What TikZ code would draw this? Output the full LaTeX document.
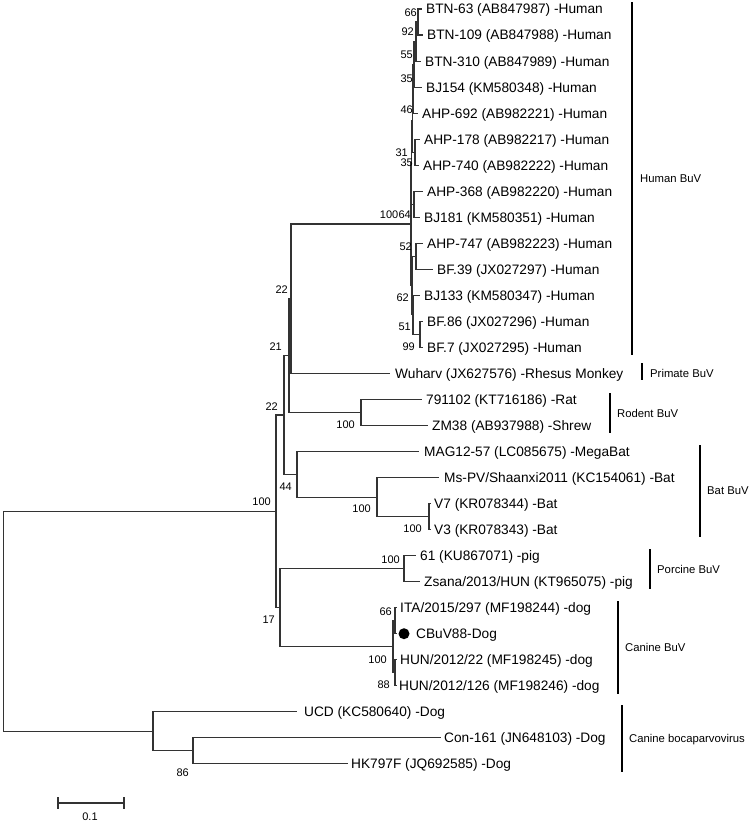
\documentclass[tikz,border=0pt]{standalone}
\usepackage{fontspec}
\setmainfont{Liberation Sans}
\begin{document}
\begin{tikzpicture}[x=1pt,y=-1pt,
  br/.style={draw=black!80, line width=1.15pt, line cap=rect},
  bar/.style={draw=black, line width=1.1pt},
  leaf/.style={anchor=west, inner sep=0pt, text height=9.8pt, text depth=0pt, font=\fontsize{13.7}{16}\selectfont},
  boot/.style={anchor=east, inner sep=0pt, text height=7.9pt, text depth=0pt, font=\fontsize{11}{13}\selectfont},
  clade/.style={anchor=west, inner sep=0pt, text height=8.1pt, text depth=0pt, font=\fontsize{11.3}{13}\selectfont}]
\useasboundingbox (0,0) rectangle (750,823);
% ---------- internal nodes ----------
\coordinate (root) at (3.5,621.4);
\coordinate (D) at (276,511.4);
\coordinate (C) at (284,415.0);
\coordinate (B) at (289,355.6);
\coordinate (A) at (291,298.7);
\coordinate (R) at (411,224.0);
\coordinate (h) at (411.8,162.3);
\coordinate (f) at (412.5,120.5);
\coordinate (d) at (413,88.7);
\coordinate (c) at (414,64.3);
\coordinate (b) at (416,41.6);
\coordinate (a) at (418,22.0);
\coordinate (e) at (415,152.2);
\coordinate (g) at (414,204.2);
\coordinate (l) at (412,285.6);
\coordinate (i) at (416,256.3);
\coordinate (k) at (413,314.9);
\coordinate (j) at (420,334.4);
\coordinate (Rod) at (361,412.5);
\coordinate (MB) at (297,474.3);
\coordinate (Bat) at (377,497.1);
\coordinate (V) at (429,516.6);
\coordinate (N17) at (280,607.8);
\coordinate (Por) at (404,568.7);
\coordinate (Can) at (393,646.8);
\coordinate (cb1) at (395,620.7);
\coordinate (cb2) at (395,672.8);
\coordinate (CB) at (153,731.4);
\coordinate (E) at (193,750.9);
% ---------- tips ----------
\coordinate (t1) at (421,9.0);
\coordinate (t2) at (422,35.0);
\coordinate (t3) at (420,61.1);
\coordinate (t4) at (421,87.1);
\coordinate (t5) at (417,113.1);
\coordinate (t6) at (419,139.2);
\coordinate (t7) at (418,165.2);
\coordinate (t8) at (422,191.2);
\coordinate (t9) at (419,217.2);
\coordinate (t10) at (422,243.3);
\coordinate (t11) at (432,269.3);
\coordinate (t12) at (419,295.3);
\coordinate (t13) at (422,321.4);
\coordinate (t14) at (422,347.4);
\coordinate (t15) at (389,373.4);
\coordinate (t16) at (421,399.5);
\coordinate (t17) at (427,425.5);
\coordinate (t18) at (418,451.5);
\coordinate (t19) at (438,477.5);
\coordinate (t20) at (430,503.6);
\coordinate (t21) at (430,529.6);
\coordinate (t22) at (415,555.6);
\coordinate (t23) at (419,581.7);
\coordinate (t24) at (396,607.7);
\coordinate (t25) at (396,633.7);
\coordinate (t26) at (396,659.8);
\coordinate (t27) at (396,685.8);
\coordinate (t28) at (296,711.8);
\coordinate (t29) at (440,737.9);
\coordinate (t30) at (347,763.9);
% ---------- branches ----------
\foreach \p/\q in {root/D,root/CB,D/C,D/N17,C/B,C/MB,B/A,B/Rod,A/R,A/t15,
  R/h,R/l,h/f,h/g,f/d,f/e,d/c,d/t5,c/b,c/t4,b/a,b/t3,a/t1,a/t2,e/t6,e/t7,
  g/t8,g/t9,l/i,l/k,i/t10,i/t11,k/t12,k/j,j/t13,j/t14,
  Rod/t16,Rod/t17,MB/t18,MB/Bat,Bat/t19,Bat/V,V/t20,V/t21,
  N17/Por,N17/Can,Por/t22,Por/t23,Can/cb1,Can/cb2,cb1/t24,cb1/t25,cb2/t26,cb2/t27,
  CB/t28,CB/E,E/t29,E/t30}
  \draw[br] (\p) |- (\q);
% ---------- leaf labels ----------
\node[leaf] (l1) at ([xshift=5pt]t1) {BTN-63 (AB847987) -Human};
\node[leaf] (l2) at ([xshift=5pt]t2) {BTN-109 (AB847988) -Human};
\node[leaf] (l3) at ([xshift=5pt]t3) {BTN-310 (AB847989) -Human};
\node[leaf] (l4) at ([xshift=5pt]t4) {BJ154 (KM580348) -Human};
\node[leaf] (l5) at ([xshift=5pt]t5) {AHP-692 (AB982221) -Human};
\node[leaf] (l6) at ([xshift=5pt]t6) {AHP-178 (AB982217) -Human};
\node[leaf] (l7) at ([xshift=5pt]t7) {AHP-740 (AB982222) -Human};
\node[leaf] (l8) at ([xshift=5pt]t8) {AHP-368 (AB982220) -Human};
\node[leaf] (l9) at ([xshift=5pt]t9) {BJ181 (KM580351) -Human};
\node[leaf] (l10) at ([xshift=5pt]t10) {AHP-747 (AB982223) -Human};
\node[leaf] (l11) at ([xshift=5pt]t11) {BF.39 (JX027297) -Human};
\node[leaf] (l12) at ([xshift=5pt]t12) {BJ133 (KM580347) -Human};
\node[leaf] (l13) at ([xshift=5pt]t13) {BF.86 (JX027296) -Human};
\node[leaf] (l14) at ([xshift=5pt]t14) {BF.7 (JX027295) -Human};
\node[leaf] (l15) at ([xshift=6pt]t15) {Wuharv (JX627576) -Rhesus Monkey};
\node[leaf] (l16) at ([xshift=5pt]t16) {791102 (KT716186) -Rat};
\node[leaf] (l17) at ([xshift=5pt]t17) {ZM38 (AB937988) -Shrew};
\node[leaf] (l18) at ([xshift=6pt]t18) {MAG12-57 (LC085675) -MegaBat};
\node[leaf] (l19) at ([xshift=6pt]t19) {Ms-PV/Shaanxi2011 (KC154061) -Bat};
\node[leaf] (l20) at ([xshift=4pt]t20) {V7 (KR078344) -Bat};
\node[leaf] (l21) at ([xshift=4pt]t21) {V3 (KR078343) -Bat};
\node[leaf] (l22) at ([xshift=5pt]t22) {61 (KU867071) -pig};
\node[leaf] (l23) at ([xshift=5pt]t23) {Zsana/2013/HUN (KT965075) -pig};
\node[leaf] (l24) at ([xshift=4pt]t24) {ITA/2015/297 (MF198244) -dog};
\node[fill=black, circle, inner sep=0pt, minimum size=11pt] (dot) at ([xshift=8pt]t25) {};
\node[leaf] (l25) at ([xshift=20pt]t25) {CBuV88-Dog};
\node[leaf] (l26) at ([xshift=4pt]t26) {HUN/2012/22 (MF198245) -dog};
\node[leaf] (l27) at ([xshift=3pt]t27) {HUN/2012/126 (MF198246) -dog};
\node[leaf] (l28) at ([xshift=8pt]t28) {UCD (KC580640) -Dog};
\node[leaf] (l29) at ([xshift=4pt]t29) {Con-161 (JN648103) -Dog};
\node[leaf] (l30) at ([xshift=4pt]t30) {HK797F (JQ692585) -Dog};
% ---------- bootstrap values ----------
\node[boot] (bs1) at (417,13) {66};
\node[boot] (bs2) at (414,32) {92};
\node[boot] (bs3) at (413,55) {55};
\node[boot] (bs4) at (413,79) {35};
\node[boot] (bs5) at (413,110) {46};
\node[boot] (bs6) at (408,153) {31};
\node[boot] (bs7) at (413,163) {35};
\node[boot] (bs8) at (398.5,215) {100};
\node[boot] (bs9) at (411,215) {64};
\node[boot] (bs10) at (412,247) {52};
\node[boot] (bs11) at (409,298) {62};
\node[boot] (bs12) at (411,327) {51};
\node[boot] (bs13) at (415,347) {99};
\node[boot] (bs14) at (288,290) {22};
\node[boot] (bs15) at (282,347) {21};
\node[boot] (bs16) at (278,407) {22};
\node[boot] (bs17) at (355,425) {100};
\node[boot] (bs18) at (292,487) {44};
\node[boot] (bs19) at (271,502) {100};
\node[boot] (bs20) at (371,509) {100};
\node[boot] (bs21) at (422,529) {100};
\node[boot] (bs22) at (400,560) {100};
\node[boot] (bs23) at (392,612) {66};
\node[boot] (bs24) at (275,620) {17};
\node[boot] (bs25) at (387,660) {100};
\node[boot] (bs26) at (390,685) {88};
\node[boot] (bs27) at (189,773) {86};
% ---------- clade bars ----------
\coordinate (hu1) at (632,2);   \coordinate (hu2) at (632,355);
\coordinate (pr1) at (642,363); \coordinate (pr2) at (642,380);
\coordinate (ro1) at (610,393); \coordinate (ro2) at (610,433);
\coordinate (ba1) at (700,445); \coordinate (ba2) at (700,537);
\coordinate (po1) at (650,549); \coordinate (po2) at (650,589);
\coordinate (ca1) at (618,601); \coordinate (ca2) at (618,694);
\coordinate (cv1) at (622,705); \coordinate (cv2) at (622,772);
\draw[bar] (hu1) -- (hu2);
\draw[bar] (pr1) -- (pr2);
\draw[bar] (ro1) -- (ro2);
\draw[bar] (ba1) -- (ba2);
\draw[bar] (po1) -- (po2);
\draw[bar] (ca1) -- (ca2);
\draw[bar] (cv1) -- (cv2);
\node[clade] (cl1) at (640,178) {Human BuV};
\node[clade] (cl2) at (650,373) {Primate BuV};
\node[clade] (cl3) at (617,413) {Rodent BuV};
\node[clade] (cl4) at (707,490) {Bat BuV};
\node[clade] (cl5) at (657,569) {Porcine BuV};
\node[clade] (cl6) at (625,647) {Canine BuV};
\node[clade] (cl7) at (629,738) {Canine bocaparvovirus};
% ---------- scale bar ----------
\coordinate (s1) at (58,803);
\coordinate (s2) at (124,803);
\draw[br] (s1) -- (s2);
\draw[br] ([yshift=-5pt]s1) -- ([yshift=5pt]s1);
\draw[br] ([yshift=-5pt]s2) -- ([yshift=5pt]s2);
\node[anchor=center, inner sep=0pt, text height=7.9pt, text depth=0pt, font=\fontsize{11}{13}\selectfont] (sl) at (90,817) {0.1};
\end{tikzpicture}
\end{document}
